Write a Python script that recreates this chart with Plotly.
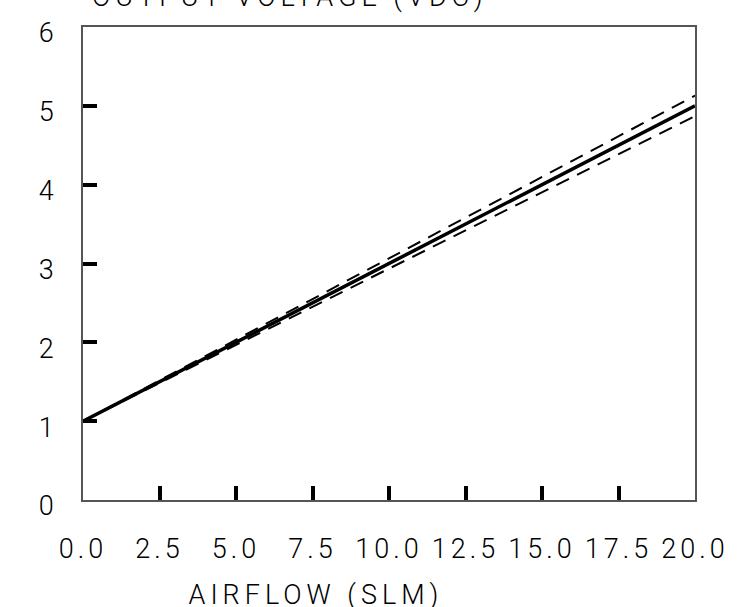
import plotly.graph_objects as go

# airflow (SLM) vs output voltage (VDC)
airflow = [0.0, 20.0]
v_nominal = [1.0, 5.0]
v_upper = [1.0, 5.13]
v_lower = [1.0, 4.87]

x_ticks = [0.0, 2.5, 5.0, 7.5, 10.0, 12.5, 15.0, 17.5, 20.0]
x_ticktext = ["0.0", "2.5", "5.0", "7.5", "10.0", "12.5", "15.0", "17.5", "20.0"]
y_ticks = [0, 1, 2, 3, 4, 5, 6]
y_ticktext = ["0", "1", "2", "3", "4", "5", "6"]

font_main = dict(family="Roboto", size=27, color="black", weight=300)

fig = go.Figure()
fig.add_trace(go.Scatter(x=airflow, y=v_upper, mode="lines",
                         line=dict(color="black", width=2, dash="14px,9px")))
fig.add_trace(go.Scatter(x=airflow, y=v_lower, mode="lines",
                         line=dict(color="black", width=2, dash="14px,9px")))
fig.add_trace(go.Scatter(x=airflow, y=v_nominal, mode="lines",
                         line=dict(color="black", width=3.5)))

fig.update_layout(
    width=740, height=607,
    margin=dict(l=83, r=45, t=27, b=107),
    plot_bgcolor="white", paper_bgcolor="white",
    showlegend=False,
    font=font_main,
    xaxis=dict(
        range=[0, 20], tickvals=x_ticks, ticktext=x_ticktext,
        ticks="", ticklen=0, showgrid=False, zeroline=False,
        showline=True, linecolor="#555", linewidth=1.5, mirror=True,
        ticklabelstandoff=24, automargin=False,
        minor=dict(tickvals=x_ticks[1:-1], ticks="inside", ticklen=14,
                   tickwidth=3.5, tickcolor="black", showgrid=False),
    ),
    yaxis=dict(
        range=[0, 6], tickvals=y_ticks, ticktext=y_ticktext,
        ticks="", ticklen=0, showgrid=False, zeroline=False,
        showline=True, linecolor="#555", linewidth=1.5, mirror=True,
        ticklabelstandoff=22, ticklabelshift=6, automargin=False,
        minor=dict(tickvals=y_ticks[1:-1], ticks="inside", ticklen=14,
                   tickwidth=3.5, tickcolor="black", showgrid=False),
    ),
)

fig.add_annotation(text="OUTPUT VOLTAGE (VDC)", xref="paper", yref="paper",
                   x=0.338, y=1.025, xanchor="center", yanchor="bottom",
                   showarrow=False, font=font_main)
fig.add_annotation(text="AIRFLOW (SLM)", xref="paper", yref="paper",
                   x=0.381, y=-0.2, xanchor="center", yanchor="middle",
                   showarrow=False, font=font_main)

# no page margin; the original lettering is widely spaced
fig.write_html("out.html", config={"displayModeBar": False}, post_script=(
    "document.body.style.margin='0';"
    "document.querySelectorAll('.xtick text').forEach(function(t){t.style.letterSpacing='4px';});"
    "document.querySelectorAll('.annotation-text').forEach(function(t){t.style.letterSpacing='5px';});"
))
